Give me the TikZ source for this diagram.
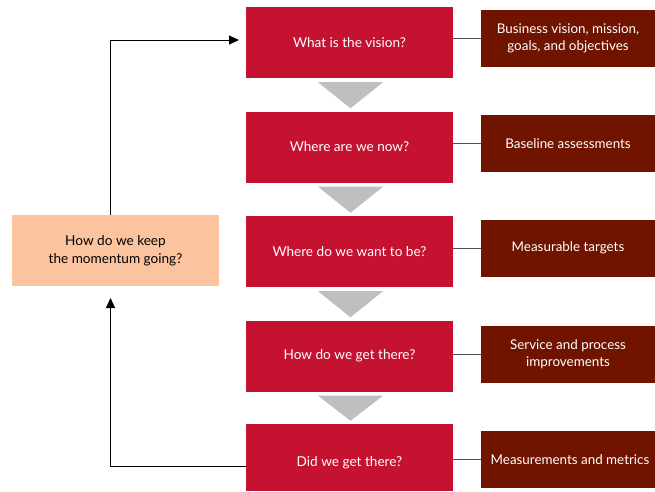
\documentclass[tikz,border=0pt]{standalone}
\usepackage{fontspec}
\setmainfont{Lato}
\usetikzlibrary{arrows.meta,calc}
\definecolor{redbox}{HTML}{C41230}
\definecolor{darkbox}{HTML}{701400}
\definecolor{peach}{HTML}{FBC49E}
\definecolor{trigray}{HTML}{BEBFC1}
\definecolor{connline}{HTML}{505050}
\tikzset{
  mainbox/.style={fill=redbox, text=white, minimum width=207pt, minimum height=71pt, inner sep=0pt, align=center, font=\fontsize{13.6}{16}\selectfont},
  sidebox/.style={fill=darkbox, text=white, minimum width=174pt, minimum height=57pt, inner sep=0pt, align=center, font=\fontsize{13.4}{17}\selectfont},
  loopbox/.style={fill=peach, text=black, minimum width=207pt, minimum height=71pt, inner sep=0pt, align=center, font=\fontsize{13.6}{18}\selectfont},
  trifill/.style={fill=trigray},
  conn/.style={draw=connline, line width=0.9pt},
  loopline/.style={draw=black, line width=0.9pt},
  looparrow/.style={loopline, -{Triangle[length=10pt,width=9pt]}}
}
\begin{document}
\begin{tikzpicture}[x=1pt,y=-1pt]
\useasboundingbox (0,0) rectangle (655,491);
% main boxes
\node[mainbox] (r1) at (349.5,42.5) {What is the vision?};
\node[mainbox] (r2) at (349.5,147) {Where are we now?};
\node[mainbox] (r3) at (349.5,251.5) {Where do we want to be?};
\node[mainbox] (r4) at (349.5,356) {How do we get there?};
\node[mainbox, minimum height=67pt] (r5) at (349.5,457.5) {\raisebox{-9pt}[0pt][0pt]{Did we get there?}};
% side boxes
\node[sidebox] (d1) at (568,38.5) {Business vision, mission,\\goals, and objectives};
\node[sidebox] (d2) at (568,143.5) {Baseline assessments};
\node[sidebox] (d3) at (568,248) {Measurable targets};
\node[sidebox] (d4) at (568,354) {Service and process\\improvements};
\node[sidebox] (d5) at (568,459.5) {\hspace*{4pt}Measurements and metrics};
% connectors
\foreach \i in {1,...,5}{
  \draw[conn] (r\i.east |- d\i.west) -- (d\i.west);
}
% triangles
\foreach \a/\b in {r1/r2,r2/r3,r3/r4,r4/r5}{
  \fill[trifill] ($(\a.south)+(-31.5,4)$) -- ($(\a.south)+(33.5,4)$) -- ($(\b.north)+(1,-3)$) -- cycle;
}
% loop box
\node[loopbox] (p) at (115.5,250.5) {How do we keep\\the momentum going?};
% feedback lines
\coordinate (fx) at (110.5,0);
\coordinate (topin) at (239,40);
\coordinate (botout) at (246,466.5);
\coordinate (upend) at (110.5,298);
\draw[looparrow] (fx |- p.north) |- (topin);
\draw[looparrow] (botout) -| (upend);
\end{tikzpicture}
\end{document}
